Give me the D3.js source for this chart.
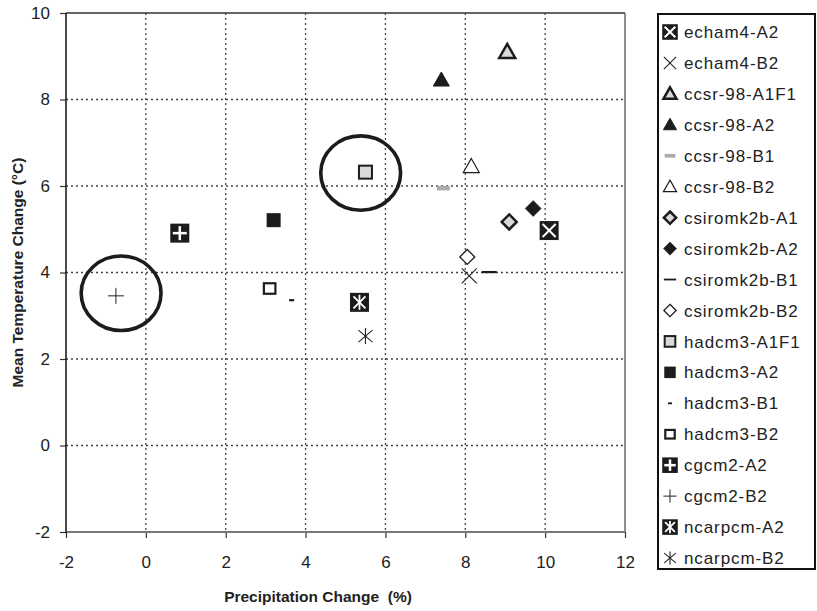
<!DOCTYPE html>
<html>
<head>
<meta charset="utf-8">
<script src="https://cdn.jsdelivr.net/npm/d3@7/dist/d3.min.js"></script>
<style>
  body { margin: 0; background: #fff; }
  svg text { font-family: "Liberation Sans", Arial, sans-serif; fill: #222; }
</style>
</head>
<body>
<svg id="chart" width="817" height="611"></svg>
<script>
// model runs, in legend order
const models = [
  "echam4-A2", "echam4-B2", "ccsr-98-A1F1", "ccsr-98-A2", "ccsr-98-B1", "ccsr-98-B2",
  "csiromk2b-A1", "csiromk2b-A2", "csiromk2b-B1", "csiromk2b-B2",
  "hadcm3-A1F1", "hadcm3-A2", "hadcm3-B1", "hadcm3-B2",
  "cgcm2-A2", "cgcm2-B2", "ncarpcm-A2", "ncarpcm-B2"
];
// precipitation change (%)
const precipChange = [10.1, 8.1, 9.05, 7.4, 7.45, 8.15, 9.1, 9.7, 8.6, 8.05, 5.5, 3.2, 3.65, 3.1, 0.85, -0.75, 5.35, 5.5];
// mean temperature change (deg C)
const tempChange = [4.97, 3.92, 9.1, 8.45, 5.95, 6.45, 5.17, 5.48, 4.01, 4.36, 6.32, 5.21, 3.36, 3.63, 4.91, 3.46, 3.31, 2.53];

// highlighted runs (circled)
const circleX = [5.38, -0.62];
const circleY = [6.3, 3.52];

const xTicks = [-2, 0, 2, 4, 6, 8, 10, 12];
const yTicks = [-2, 0, 2, 4, 6, 8, 10];

// marker type per run
const markerType = {
  "echam4-A2": "boxX", "echam4-B2": "x",
  "ccsr-98-A1F1": "triGray", "ccsr-98-A2": "triBlack", "ccsr-98-B1": "dashGray", "ccsr-98-B2": "triWhite",
  "csiromk2b-A1": "diaGray", "csiromk2b-A2": "diaBlack", "csiromk2b-B1": "dashBlack", "csiromk2b-B2": "diaWhite",
  "hadcm3-A1F1": "sqGray", "hadcm3-A2": "sqBlack", "hadcm3-B1": "dashSmall", "hadcm3-B2": "sqWhite",
  "cgcm2-A2": "boxPlus", "cgcm2-B2": "plus", "ncarpcm-A2": "boxStar", "ncarpcm-B2": "star"
};

const svg = d3.select("#chart");
const plot = { left: 66, right: 625, top: 13, bottom: 532 };
const dark = "#1c1c1c";

const x = d3.scaleLinear().domain([-2, 12]).range([plot.left, plot.right]);
const y = d3.scaleLinear().domain([-2, 10]).range([plot.bottom, plot.top]);

// grid
svg.append("g")
  .selectAll("line")
  .data(xTicks.slice(1, -1))
  .join("line")
  .attr("x1", d => x(d)).attr("x2", d => x(d))
  .attr("y1", plot.top).attr("y2", plot.bottom)
  .attr("stroke", "#444").attr("stroke-width", 1.3).attr("stroke-dasharray", "2,3");

svg.append("g")
  .selectAll("line")
  .data(yTicks.slice(1, -1))
  .join("line")
  .attr("x1", plot.left).attr("x2", plot.right)
  .attr("y1", d => y(d)).attr("y2", d => y(d))
  .attr("stroke", "#444").attr("stroke-width", 1.3).attr("stroke-dasharray", "2,3");

// axes
const fmt = d => String(d);
const xAxis = svg.append("g")
  .attr("transform", `translate(0,${plot.bottom})`)
  .call(d3.axisBottom(x).tickValues(xTicks).tickSize(6).tickPadding(17.5).tickFormat(fmt));
const yAxis = svg.append("g")
  .attr("transform", `translate(${plot.left},0)`)
  .call(d3.axisLeft(y).tickValues(yTicks).tickSize(6).tickPadding(10).tickFormat(fmt));

[xAxis, yAxis].forEach(a => {
  a.select(".domain").remove();
  a.selectAll(".tick line").attr("stroke", "#333").attr("stroke-width", 1.2);
  a.selectAll("text")
    .style("font-family", "'Liberation Sans', Arial, sans-serif")
    .style("font-size", "17px")
    .attr("fill", "#222");
});

// frame
svg.append("line").attr("x1", plot.left).attr("x2", plot.right).attr("y1", plot.top).attr("y2", plot.top)
  .attr("stroke", "#333").attr("stroke-width", 1.5);
svg.append("line").attr("x1", plot.right).attr("x2", plot.right).attr("y1", plot.top).attr("y2", plot.bottom)
  .attr("stroke", "#444").attr("stroke-width", 1.2);
svg.append("line").attr("x1", plot.left).attr("x2", plot.right).attr("y1", plot.bottom).attr("y2", plot.bottom)
  .attr("stroke", "#777").attr("stroke-width", 2);
svg.append("line").attr("x1", plot.left).attr("x2", plot.left).attr("y1", plot.top).attr("y2", plot.bottom + 1)
  .attr("stroke", "#111").attr("stroke-width", 1.5);

// axis titles
svg.append("text")
  .attr("x", 318).attr("y", 602)
  .attr("text-anchor", "middle")
  .style("font-size", "15.5px").style("font-weight", "bold").style("white-space", "pre")
  .text("Precipitation Change  (%)");

svg.append("text")
  .attr("transform", `translate(23,${(plot.top + plot.bottom) / 2}) rotate(-90)`)
  .attr("text-anchor", "middle")
  .style("font-size", "15.5px").style("font-weight", "bold")
  .text("Mean Temperature Change (°C)");

// markers
function drawMarker(g, type, s) {
  const line = (x1, y1, x2, y2, color, w) => g.append("line")
    .attr("x1", x1 * s).attr("y1", y1 * s).attr("x2", x2 * s).attr("y2", y2 * s)
    .attr("stroke", color).attr("stroke-width", w);
  const rect = (w, h, fill, stroke, sw) => g.append("rect")
    .attr("x", -w * s / 2).attr("y", -h * s / 2).attr("width", w * s).attr("height", h * s)
    .attr("fill", fill).attr("stroke", stroke || "none").attr("stroke-width", sw || 0);
  const tri = (fill, sw) => g.append("path")
    .attr("d", `M0,${-8 * s}L${8 * s},${6 * s}L${-8 * s},${6 * s}Z`)
    .attr("fill", fill).attr("stroke", dark).attr("stroke-width", sw).attr("stroke-linejoin", "miter");
  const dia = (r, fill, sw) => g.append("path")
    .attr("d", `M0,${-r * s}L${r * s},0L0,${r * s}L${-r * s},0Z`)
    .attr("fill", fill).attr("stroke", dark).attr("stroke-width", sw);

  switch (type) {
    case "boxX":
      rect(19, 19, dark);
      line(-6.5, -6.5, 6.5, 6.5, "#fff", 2); line(-6.5, 6.5, 6.5, -6.5, "#fff", 2);
      break;
    case "boxPlus":
      rect(19, 19, dark);
      line(-7, 0, 7, 0, "#fff", 2.5); line(0, -7, 0, 7, "#fff", 2.5);
      break;
    case "boxStar":
      rect(19, 19, dark);
      line(-6, -6, 6, 6, "#fff", 1.8); line(-6, 6, 6, -6, "#fff", 1.8); line(0, -7.5, 0, 7.5, "#fff", 1.8);
      break;
    case "x":
      line(-7.5, -7.5, 7.5, 7.5, "#222", 1.1); line(-7.5, 7.5, 7.5, -7.5, "#222", 1.1);
      break;
    case "plus":
      line(-8, 0, 8, 0, "#222", 1); line(0, -8, 0, 8, "#222", 1);
      break;
    case "star":
      line(-7, -6, 7, 6, "#222", 1.1); line(-7, 6, 7, -6, "#222", 1.1); line(0, -8, 0, 8, "#222", 1.1);
      break;
    case "triGray": tri("#d9d9d9", 2.5); break;
    case "triBlack": tri(dark, 1); break;
    case "triWhite": tri("#fff", 1.2); break;
    case "diaGray": dia(7.5, "#d9d9d9", 2.5); break;
    case "diaBlack": dia(8, dark, 0.5); break;
    case "diaWhite": dia(7.5, "#fff", 1.3); break;
    case "dashGray": rect(13, 4.5, "#aaa"); break;
    case "dashBlack": rect(15, 2.2, dark); break;
    case "dashSmall": rect(5, 2.2, dark); break;
    case "sqGray": rect(13, 13, "#d9d9d9", dark, 2); break;
    case "sqBlack": rect(14, 14, dark); break;
    case "sqWhite": rect(11.5, 10.5, "#fff", dark, 2.2); break;
  }
}

const points = models.map((m, i) => ({ name: m, px: precipChange[i], ty: tempChange[i] }));

svg.append("g")
  .selectAll("g")
  .data(points)
  .join("g")
  .attr("transform", d => `translate(${x(d.px)},${y(d.ty)})`)
  .each(function (d) { drawMarker(d3.select(this), markerType[d.name], 1); });

// highlight circles
svg.append("g")
  .selectAll("ellipse")
  .data(circleX.map((cx, i) => ({ cx, cy: circleY[i] })))
  .join("ellipse")
  .attr("cx", d => x(d.cx)).attr("cy", d => y(d.cy))
  .attr("rx", d => x(d.cx + 1) - x(d.cx))
  .attr("ry", d => y(d.cy) - y(d.cy + 0.86))
  .attr("fill", "none").attr("stroke", dark).attr("stroke-width", 3.6);

// legend
const legend = svg.append("g");
legend.append("rect")
  .attr("x", 658).attr("y", 14).attr("width", 157).attr("height", 555)
  .attr("fill", "#fff").attr("stroke", "#111").attr("stroke-width", 2);

const row = d3.scalePoint().domain(models).range([32, 558]);
const items = legend.selectAll("g.item")
  .data(models)
  .join("g")
  .attr("class", "item")
  .attr("transform", d => `translate(670,${row(d)})`);
items.each(function (d) { drawMarker(d3.select(this), markerType[d], 0.82); });
items.append("text")
  .attr("x", 14).attr("dy", "0.36em")
  .style("font-size", "17px").style("letter-spacing", "0.9px")
  .text(d => d);
</script>
</body>
</html>
